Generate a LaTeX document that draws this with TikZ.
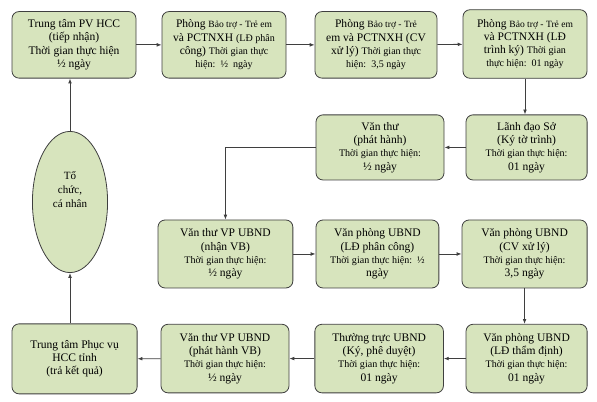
\documentclass[tikz,border=0pt]{standalone}
\usepackage{fontspec}
\setmainfont{Liberation Serif}
\usetikzlibrary{arrows.meta,shapes.geometric}
\definecolor{olivebox}{HTML}{D7E4BD}
\definecolor{edgegray}{HTML}{3F3F3F}
\newcommand{\sm}{\fontsize{10}{12.5}\selectfont}
\newcommand{\xs}{\fontsize{9.5}{12.5}\selectfont}

\begin{document}
\begin{tikzpicture}[every node/.style={font=\fontsize{11.5}{13.2}\selectfont}, >={Latex[length=1.7mm,width=1.3mm]},
	stepbox/.style={draw=edgegray, line width=0.8pt, fill=olivebox, rounded corners=7pt, align=center, inner sep=1pt, minimum height=2.33cm},
	link/.style={->, edgegray, line width=0.8pt}]
	\useasboundingbox (0,0) rectangle (20.895,14.07);
	% row 1
	\node[stepbox, minimum width=4.34cm] (tiepnhan) at (2.59,12.5) {Trung tâm PV HCC\\(tiếp nhận)\\Thời gian thực hiện\\½ ngày};
	\node[stepbox, minimum width=4.34cm] (phancong) at (7.84,12.5) {Phòng {\xs Bảo trợ - Trẻ em}\\và PCTNXH {\sm(LĐ phân}\\công) {\sm Thời gian thực}\\{\sm hiện:\ \ ½\ \ ngày}};
	\node[stepbox, minimum width=4.27cm] (xuly) at (13.16,12.5) {Phòng {\xs Bảo trợ - Trẻ}\\em và PCTNXH (CV\\xử lý) {\sm Thời gian thực}\\{\sm hiện:\ \ 3,5 ngày}};
	\node[stepbox, minimum width=4.34cm, minimum height=2.4cm] (trinhky) at (18.375,12.53) {Phòng {\xs Bảo trợ - Trẻ em}\\và PCTNXH (LĐ\\trình ký) {\sm Thời gian}\\{\sm thực hiện:\ \ 01 ngày}};
	% row 2
	\node[stepbox, minimum width=4.24cm, minimum height=2.28cm] (kytotrinh) at (18.43,8.91) {Lãnh đạo Sở\\(Ký tờ trình)\\{\sm Thời gian thực hiện:}\\01 ngày};
	\node[stepbox, minimum width=4.48cm, minimum height=2.28cm] (vanthu) at (13.3,8.91) {Văn thư\\(phát hành)\\{\sm Thời gian thực hiện:}\\½ ngày};
	\node[ellipse, draw=edgegray, line width=0.8pt, fill=olivebox, minimum width=2.63cm, minimum height=4.94cm, inner sep=0pt] (tochuc) at (2.45,7.0) {\raisebox{11pt}[\height][\depth]{\fontsize{11}{14}\selectfont\begin{tabular}{@{}c@{}}Tổ\\chức,\\cá nhân\end{tabular}}};
	% row 3
	\node[stepbox, minimum width=4.72cm, minimum height=2.38cm] (nhanvb) at (7.89,5.18) {Văn thư VP UBND\\(nhận VB)\\{\sm Thời gian thực hiện:}\\½ ngày};
	\node[stepbox, minimum width=4.3cm, minimum height=2.38cm] (ldphancong) at (13.21,5.18) {Văn phòng UBND\\(LĐ phân công)\\{\sm Thời gian thực hiện:\ \ ½}\\ngày};
	\node[stepbox, minimum width=4.38cm, minimum height=2.38cm] (cvxuly) at (18.36,5.18) {Văn phòng UBND\\(CV xử lý)\\{\sm Thời gian thực hiện:}\\3,5 ngày};
	% row 4
	\node[stepbox, minimum width=4.38cm, minimum height=2.45cm] (traketqua) at (2.61,1.51) {Trung tâm Phục vụ\\HCC tỉnh\\(trả kết quả)};
	\node[stepbox, minimum width=4.48cm, minimum height=2.4cm] (phathanhvb) at (7.875,1.52) {Văn thư VP UBND\\(phát hành VB)\\{\sm Thời gian thực hiện:}\\½ ngày};
	\node[stepbox, minimum width=4.5cm, minimum height=2.4cm] (pheduyet) at (13.27,1.52) {Thường trực UBND\\(Ký, phê duyệt)\\{\sm Thời gian thực hiện:}\\01 ngày};
	\node[stepbox, minimum width=4.24cm, minimum height=2.4cm] (thamdinh) at (18.43,1.52) {Văn phòng UBND\\(LĐ thẩm định)\\{\sm Thời gian thực hiện:}\\01 ngày};
	% connectors
	\foreach \a/\b in {tiepnhan/phancong, phancong/xuly, xuly/trinhky, kytotrinh/vanthu, nhanvb/ldphancong, ldphancong/cvxuly, thamdinh/pheduyet, pheduyet/phathanhvb, phathanhvb/traketqua}
		\draw[link] (\a) -- (\b);
	\draw[link] (trinhky.south) -- (trinhky.south |- kytotrinh.north);
	\draw[link] (cvxuly.south) -- (cvxuly.south |- thamdinh.north);
	\draw[link] (vanthu.west) -| (nhanvb.north);
	\draw[link] (traketqua.north -| tochuc.south) -- (tochuc.south);
	\draw[link] (tochuc.north) -- (tochuc.north |- tiepnhan.south);
\end{tikzpicture}
\end{document}
